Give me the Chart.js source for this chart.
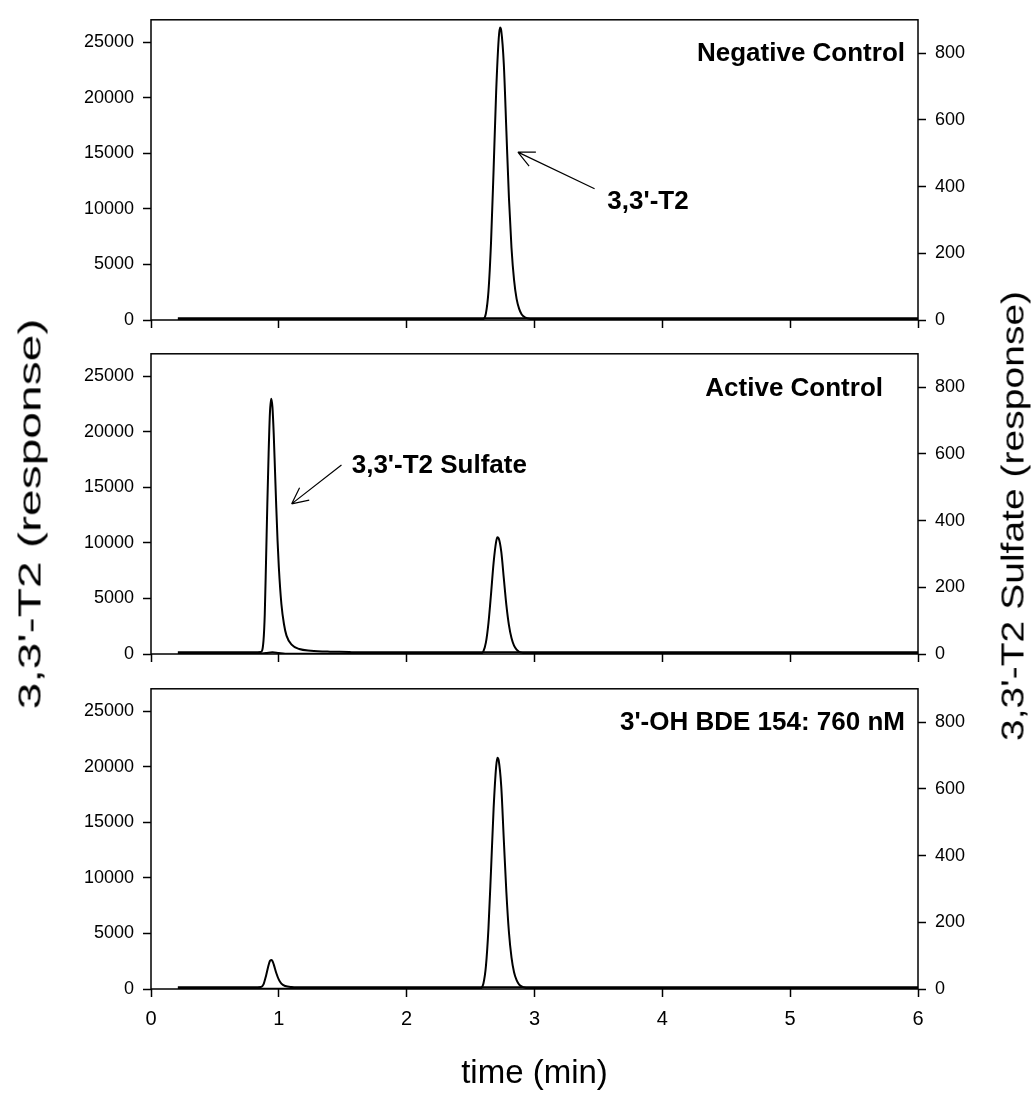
<!DOCTYPE html>
<html>
<head>
<meta charset="utf-8">
<script src="https://cdn.jsdelivr.net/npm/chart.js@4.4.1/dist/chart.umd.min.js"></script>
<style>
  body { margin: 0; background: #fff; }
  #wrap { position: relative; width: 1035px; height: 1098px; font-family: Arial, "Liberation Sans", sans-serif; color: #000; }
  .panel { position: absolute; left: 0; width: 1035px; }
  .ytitle { position: absolute; font-size: 32px; white-space: nowrap; }
  #ltitle { transform: translate(-50%, -50%) rotate(-90deg) scale(1.5, 1); }
  #rtitle { transform: translate(-50%, -50%) rotate(-90deg) scale(1.22, 1); }
</style>
</head>
<body>
<div id="wrap">
  <div class="panel" style="top:0;height:340px"><canvas id="p1"></canvas></div>
  <div class="panel" style="top:334px;height:340px"><canvas id="p2"></canvas></div>
  <div class="panel" style="top:669px;height:429px"><canvas id="p3"></canvas></div>
  <div class="ytitle" id="ltitle" style="left:30px;top:514px">3,3'-T2 (response)</div>
  <div class="ytitle" id="rtitle" style="left:1013px;top:516px">3,3'-T2 Sulfate (response)</div>
</div>
<script>
// time axis (min) and tick labels
const xTicks = [0, 1, 2, 3, 4, 5, 6];
const leftTicks = [0, 5000, 10000, 15000, 20000, 25000];
const rightTicks = [0, 200, 400, 600, 800];

// Negative Control
const t2Time1 = [0.21, 0.5, 0.88, 0.93, 0.98, 1.5, 2.0, 2.4, 2.58, 2.60, 2.62, 2.64, 2.66, 2.68, 2.70, 2.72, 2.73, 2.74, 2.76, 2.78, 2.80, 2.82, 2.84, 2.86, 2.88, 2.90, 2.93, 2.97, 3.02, 3.5, 4.0, 4.5, 5.0, 5.5, 6.0];
const t2Vals1 = [20, 20, 20, 70, 20, 20, 20, 20, 20, 80, 600, 2600, 7000, 13500, 20500, 25300, 26300, 26000, 23000, 17000, 11000, 6500, 3600, 1900, 1000, 500, 220, 80, 20, 20, 20, 20, 20, 20, 20];
const sulfTime1 = [0.21, 1.0, 2.0, 3.0, 4.0, 5.0, 6.0];
const sulfVals1 = [5, 5, 5, 5, 5, 5, 5];

// Active Control
const t2Time2 = [0.21, 0.5, 0.85, 0.9, 0.95, 1.0, 1.05, 1.5, 2.0, 2.4, 2.56, 2.58, 2.60, 2.62, 2.64, 2.66, 2.68, 2.70, 2.71, 2.72, 2.74, 2.76, 2.78, 2.80, 2.82, 2.84, 2.86, 2.88, 2.91, 2.95, 3.0, 3.5, 4.0, 4.5, 5.0, 5.5, 6.0];
const t2Vals2 = [20, 20, 20, 80, 150, 80, 20, 20, 20, 20, 20, 30, 240, 1040, 2800, 5400, 8200, 10100, 10500, 10400, 9200, 6800, 4400, 2600, 1440, 760, 400, 200, 90, 30, 20, 20, 20, 20, 20, 20, 20];
const sulfTime2 = [0.21, 0.5, 0.8, 0.86, 0.88, 0.89, 0.90, 0.91, 0.92, 0.93, 0.94, 0.95, 0.96, 0.97, 0.98, 0.99, 1.00, 1.02, 1.04, 1.06, 1.10, 1.16, 1.25, 1.40, 1.55, 1.6, 2.0, 3.0, 4.0, 5.0, 6.0];
const sulfVals2 = [5, 5, 5, 6, 40, 120, 280, 450, 600, 720, 765, 740, 660, 550, 440, 340, 260, 150, 90, 55, 28, 15, 10, 7, 6, 5, 5, 5, 5, 5, 5];

// 3'-OH BDE 154: 760 nM
const t2Time3 = [0.21, 0.5, 1.0, 1.5, 2.0, 2.4, 2.56, 2.58, 2.60, 2.62, 2.64, 2.66, 2.68, 2.70, 2.71, 2.72, 2.74, 2.76, 2.78, 2.80, 2.82, 2.84, 2.86, 2.88, 2.91, 2.95, 3.0, 3.5, 4.0, 4.5, 5.0, 5.5, 6.0];
const t2Vals3 = [20, 20, 20, 20, 20, 20, 20, 50, 470, 2050, 5500, 10700, 16200, 20000, 20800, 20550, 18200, 13400, 8700, 5100, 2850, 1500, 790, 400, 170, 60, 20, 20, 20, 20, 20, 20, 20];
const sulfTime3 = [0.21, 0.5, 0.8, 0.86, 0.88, 0.90, 0.92, 0.93, 0.94, 0.95, 0.96, 0.98, 1.00, 1.02, 1.05, 1.10, 1.2, 1.5, 2.0, 3.0, 4.0, 5.0, 6.0];
const sulfVals3 = [5, 5, 5, 6, 14, 40, 72, 84, 87, 84, 74, 48, 28, 16, 9, 6, 5, 5, 5, 5, 5, 5, 5];

const font = 'Arial, "Liberation Sans", sans-serif';

function pts(t, v) {
  return t.map((x, i) => ({ x: x, y: v[i] }));
}

// frame, panel label, arrows
const marksPlugin = {
  id: 'marks',
  beforeDatasetsDraw(chart) {
    const { ctx, chartArea: a } = chart;
    ctx.save();
    ctx.strokeStyle = '#000';
    ctx.lineWidth = 1.5;
    ctx.strokeRect(a.left, a.top, a.right - a.left, a.bottom - a.top);
    ctx.restore();
  },
  afterDatasetsDraw(chart, args, opts) {
    const { ctx, chartArea: a, scales } = chart;
    ctx.save();
    ctx.fillStyle = '#000';
    ctx.strokeStyle = '#000';
    ctx.font = 'bold 26px ' + font;
    ctx.textAlign = 'right';
    ctx.textBaseline = 'middle';
    ctx.fillText(opts.label, a.right - opts.labelDx, a.top + opts.labelDy);

    (opts.arrows || []).forEach(ar => {
      const x1 = scales.x.getPixelForValue(ar.tail[0]), y1 = scales.y.getPixelForValue(ar.tail[1]);
      const x2 = scales.x.getPixelForValue(ar.head[0]), y2 = scales.y.getPixelForValue(ar.head[1]);
      ctx.lineWidth = 1.2;
      ctx.beginPath();
      ctx.moveTo(x1, y1);
      ctx.lineTo(x2, y2);
      const ang = Math.atan2(y1 - y2, x1 - x2);
      [0.45, -0.45].forEach(d => {
        ctx.moveTo(x2, y2);
        ctx.lineTo(x2 + 18 * Math.cos(ang + d), y2 + 18 * Math.sin(ang + d));
      });
      ctx.stroke();
      ctx.font = 'bold 26px ' + font;
      ctx.textAlign = 'left';
      ctx.fillText(ar.text, scales.x.getPixelForValue(ar.textAt[0]), scales.y.getPixelForValue(ar.textAt[1]));
    });
    ctx.restore();
  }
};

function makePanel(id, t2t, t2v, st, sv, marks, bottom) {
  const tickFont = { family: font, size: 18 };
  new Chart(document.getElementById(id), {
    type: 'line',
    data: {
      datasets: [
        { label: "3,3'-T2", data: pts(t2t, t2v), yAxisID: 'y', borderColor: '#000', borderWidth: 2, pointRadius: 0, cubicInterpolationMode: 'monotone', fill: false },
        { label: "3,3'-T2 Sulfate", data: pts(st, sv), yAxisID: 'y2', borderColor: '#000', borderWidth: 2, pointRadius: 0, cubicInterpolationMode: 'monotone', fill: false }
      ]
    },
    options: {
      responsive: true,
      maintainAspectRatio: false,
      animation: false,
      events: [],
      layout: { padding: { top: 14, left: 0, right: 0, bottom: 0 } },
      plugins: { legend: { display: false }, tooltip: { enabled: false }, marks: marks },
      scales: {
        x: {
          type: 'linear', min: 0, max: 6,
          afterBuildTicks: s => { s.ticks = xTicks.map(v => ({ value: v })); },
          afterFit: s => { s.height = bottom ? 109 : 20; },
          border: { display: false },
          grid: { drawOnChartArea: false, drawTicks: true, tickLength: 8, tickColor: '#000', tickWidth: 1.5 },
          ticks: { display: bottom, color: '#000', font: { family: font, size: 20 }, padding: 10, maxRotation: 0 },
          title: { display: bottom, text: 'time (min)', color: '#000', font: { family: font, size: 33 }, padding: { top: 8 } }
        },
        y: {
          position: 'left', min: 0, max: 27000,
          afterBuildTicks: s => { s.ticks = leftTicks.map(v => ({ value: v })); },
          afterFit: s => { s.width = 151; },
          border: { display: false },
          grid: { drawOnChartArea: false, drawTicks: true, tickLength: 8, tickColor: '#000', tickWidth: 1.5 },
          ticks: { color: '#000', font: tickFont, padding: 9, callback: v => String(v) }
        },
        y2: {
          position: 'right', min: 0, max: 900,
          afterBuildTicks: s => { s.ticks = rightTicks.map(v => ({ value: v })); },
          afterFit: s => { s.width = 117; },
          border: { display: false },
          grid: { drawOnChartArea: false, drawTicks: true, tickLength: 8, tickColor: '#000', tickWidth: 1.5 },
          ticks: { color: '#000', font: tickFont, padding: 9, callback: v => String(v) }
        }
      }
    },
    plugins: [marksPlugin]
  });
}

makePanel('p1', t2Time1, t2Vals1, sulfTime1, sulfVals1, {
  label: 'Negative Control', labelDx: 13, labelDy: 34,
  arrows: [{ tail: [3.47, 11800], head: [2.87, 15100], text: "3,3'-T2", textAt: [3.57, 10600] }]
}, false);

makePanel('p2', t2Time2, t2Vals2, sulfTime2, sulfVals2, {
  label: 'Active Control', labelDx: 35, labelDy: 35,
  arrows: [{ tail: [1.49, 17000], head: [1.10, 13500], text: "3,3'-T2 Sulfate", textAt: [1.57, 16900] }]
}, false);

makePanel('p3', t2Time3, t2Vals3, sulfTime3, sulfVals3, {
  label: "3'-OH BDE 154: 760 nM", labelDx: 13, labelDy: 34,
  arrows: []
}, true);
</script>
</body>
</html>
